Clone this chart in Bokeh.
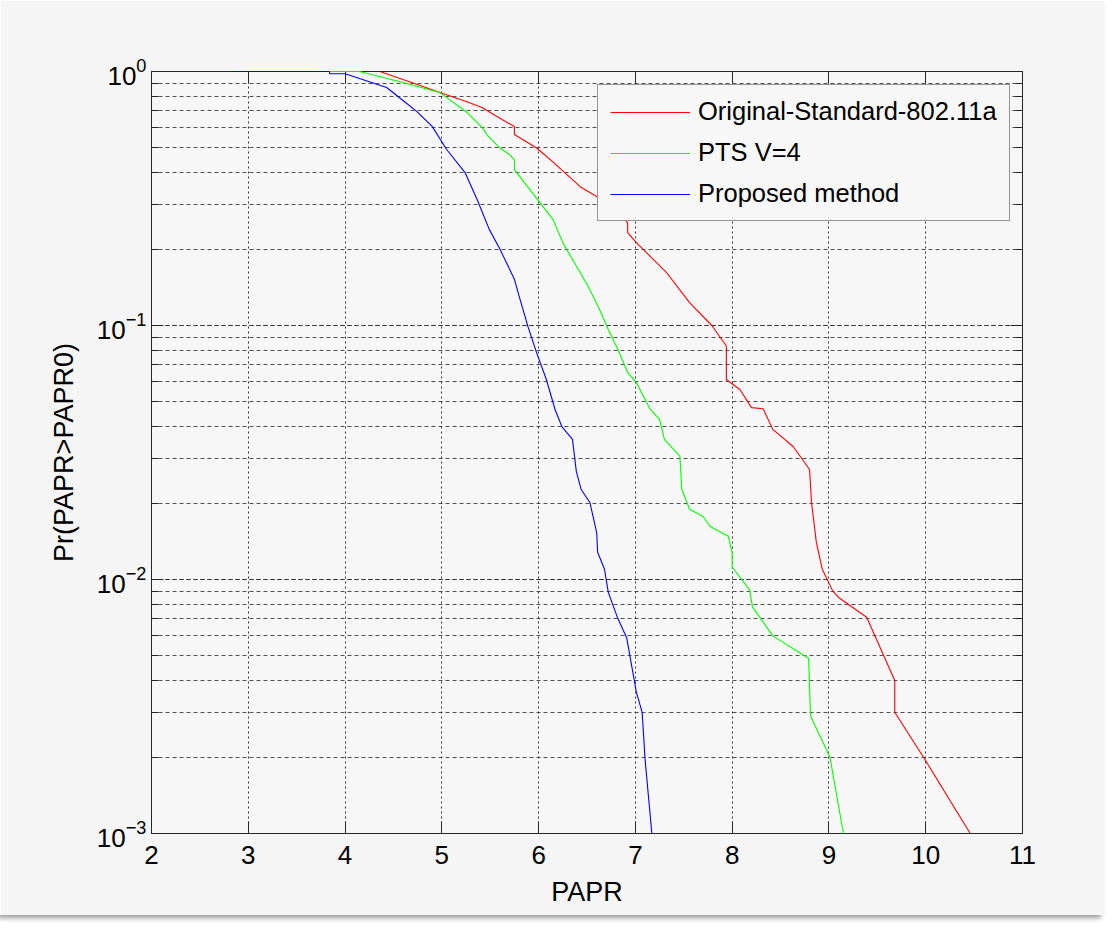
from bokeh.plotting import figure
from bokeh.models import Range1d, LinearAxis, LogAxis, FixedTicker, LogTicker
from bokeh.embed import file_html
from bokeh.resources import INLINE

# ---- data ----
x_ticks = [2, 3, 4, 5, 6, 7, 8, 9, 10, 11]

orig_x = [4.36, 4.74, 4.98, 5.26, 5.42, 5.57, 5.75, 5.75, 5.98, 6.15, 6.43, 6.6, 6.75,
          6.92, 6.92, 7.01, 7.32, 7.56, 7.79, 7.94, 7.94, 8.08, 8.2, 8.32, 8.42, 8.63,
          8.8, 8.82, 8.87, 8.93, 9.04, 9.1, 9.39, 9.68, 9.68, 9.99, 10.46]
orig_y = [1.0, 0.89, 0.826, 0.76, 0.72, 0.665, 0.607, 0.565, 0.50, 0.44, 0.352, 0.322, 0.29,
          0.254, 0.232, 0.212, 0.162, 0.123, 0.1, 0.083, 0.0613, 0.056, 0.0475, 0.047, 0.039, 0.0334,
          0.0271, 0.0201, 0.014, 0.011, 0.009, 0.0085, 0.0071, 0.004, 0.003, 0.00196, 0.001]

pts_x = [3.84, 4.15, 4.56, 4.98, 5.26, 5.42, 5.48, 5.6, 5.7, 5.75, 5.75, 5.99, 6.15, 6.25,
         6.51, 6.63, 6.72, 6.82, 6.92, 7.01, 7.15, 7.25, 7.3, 7.46, 7.48, 7.56, 7.7, 7.77,
         7.96, 8.0, 8.0, 8.18, 8.21, 8.42, 8.79, 8.81, 9.01, 9.15]
pts_y = [1.0, 1.0, 0.913, 0.826, 0.69, 0.60, 0.555, 0.50, 0.471, 0.45, 0.411, 0.313, 0.261, 0.212,
         0.143, 0.1156, 0.0964, 0.0805, 0.0653, 0.0597, 0.047, 0.0427, 0.0356, 0.0305, 0.0226, 0.0189, 0.0177, 0.0162,
         0.0148, 0.0128, 0.0112, 0.0091, 0.0078, 0.006, 0.0049, 0.0029, 0.002, 0.001]

prop_x = [2.84, 3.84, 3.84, 4.0, 4.22, 4.43, 4.56, 4.74, 4.9, 5.05, 5.24, 5.37, 5.49, 5.6,
          5.75, 5.8, 5.89, 5.98, 6.08, 6.17, 6.24, 6.35, 6.39, 6.44, 6.53, 6.6, 6.61, 6.68,
          6.72, 6.82, 6.91, 7.01, 7.07, 7.1, 7.17]
prop_y = [1.0, 1.0, 0.98, 0.98, 0.92, 0.865, 0.79, 0.697, 0.608, 0.493, 0.40, 0.31, 0.239, 0.2,
          0.152, 0.13, 0.099, 0.078, 0.0613, 0.0467, 0.04, 0.0356, 0.0266, 0.0226, 0.0201, 0.0153, 0.0128, 0.011,
          0.0089, 0.007, 0.0059, 0.0036, 0.003, 0.00196, 0.001]

series_names = ["Original-Standard-802.11a", "PTS V=4", "Proposed method"]
series_colors = ["#ff0000", "#00ff00", "#0000ff"]

FONT = "Liberation Sans"
AX = "#262626"

p = figure(
    frame_width=871, frame_height=762,
    x_range=Range1d(2, 11), y_range=Range1d(1e-3, 1),
    y_axis_type="log",
    output_backend="svg", toolbar_location=None,
    min_border_left=151, min_border_top=71, min_border_right=82, min_border_bottom=82,
    background_fill_color="#f7f7f7", border_fill_color="#f5f5f5",
)
p.outline_line_color = AX

renderers = []
for xs, ys, name, col in zip([orig_x, pts_x, prop_x], [orig_y, pts_y, prop_y],
                             series_names, series_colors):
    r = p.line(xs, ys, line_color=col, line_width=1.1, legend_label=name)
    renderers.append(r)
# the green and blue curves run along the top edge: draw them above the frame
renderers[1].level = "overlay"
renderers[2].level = "overlay"

# axes
xa = p.xaxis[0]
xa.ticker = FixedTicker(ticks=x_ticks)
xa.axis_label = "PAPR"
ya = p.yaxis[0]
ya.ticker = LogTicker(num_minor_ticks=10)
ya.axis_label = "Pr(PAPR>PAPR0)"

top = LinearAxis(ticker=FixedTicker(ticks=x_ticks))
right = LogAxis(ticker=LogTicker(num_minor_ticks=10))
p.add_layout(top, "above")
p.add_layout(right, "right")

for ax in [xa, ya, top, right]:
    ax.axis_line_color = AX
    ax.major_tick_line_color = AX
    ax.minor_tick_line_color = AX
    ax.major_tick_in = 12
    ax.major_tick_out = 0
    ax.minor_tick_in = 7
    ax.minor_tick_out = 0
    ax.major_label_text_font = FONT
    ax.major_label_text_font_size = "26px"
    ax.major_label_text_color = "#000000" if ax in (xa, ya) else None
    ax.axis_label_text_font = FONT
    ax.axis_label_text_font_size = "27px"
    ax.axis_label_text_font_style = "normal"
    ax.axis_label_text_color = "#000000"
for ax in [xa, top]:
    ax.minor_tick_line_color = None
xa.major_label_standoff = 12
xa.axis_label_standoff = 10
ya.major_label_standoff = 5
ya.axis_label_standoff = 15

# grid
p.xgrid.ticker = FixedTicker(ticks=x_ticks)
p.xgrid.grid_line_color = "#333333"
p.xgrid.grid_line_dash = "2 3"
p.xgrid.grid_line_width = 1
p.ygrid.grid_line_color = "#333333"
p.ygrid.grid_line_dash = "4 3"
p.ygrid.grid_line_alpha = 0.85
p.ygrid.minor_grid_line_color = "#333333"
p.ygrid.minor_grid_line_dash = "4 3"
p.ygrid.minor_grid_line_alpha = 0.85

# legend
lg = p.legend[0]
lg.location = (446, 612)
lg.label_text_font = FONT
lg.label_text_font_size = "25.5px"
lg.label_text_color = "#000000"
lg.glyph_width = 80
lg.glyph_height = 28
lg.label_height = 28
lg.label_standoff = 8
lg.spacing = 12
lg.padding = 12
lg.margin = 0
lg.border_line_color = "#333333"
lg.border_line_width = 1
lg.background_fill_color = "#f7f7f7"
lg.background_fill_alpha = 1

p.styles = {"box-shadow": "-3px 3px 5px #9a9a9a"}

open("out.html", "w").write(file_html(p, INLINE))
